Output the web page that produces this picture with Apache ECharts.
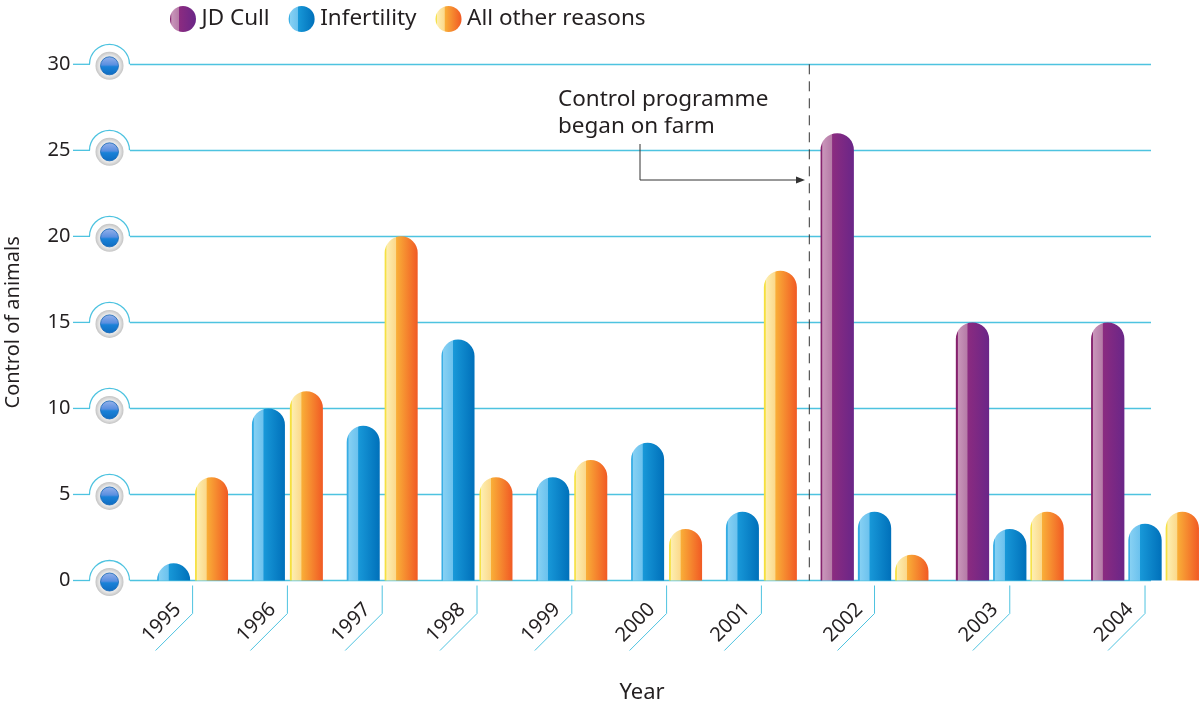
<!DOCTYPE html>
<html>
<head>
<meta charset="utf-8">
<script src="https://cdn.jsdelivr.net/npm/echarts@6/dist/echarts.min.js"></script>
<style>
html,body{margin:0;padding:0;background:#fff;}
#main{width:1200px;height:703px;}
</style>
</head>
<body>
<div id="main"></div>
<script>
// ---- data ----
const yearsBefore = ['1995','1996','1997','1998','1999','2000','2001'];
const infertilityBefore = [1, 10, 9, 14, 6, 8, 4];
const otherBefore = [6, 11, 20, 6, 7, 3, 18];
const yearsAfter = ['2002','2003','2004'];
const jdCullAfter = [26, 15, 15];
const infertilityAfter = [4, 3, 3.3];
const otherAfter = [1.5, 4, 4];
const yTicks = [0, 5, 10, 15, 20, 25, 30];
const seriesNames = ['JD Cull', 'Infertility', 'All other reasons'];
const annotationText = 'Control programme\nbegan on farm';

// ---- styles ----
const FONT = 'Noto Sans';
const CYAN = '#4ec3e0';
const TXT = '#231f20';
function hGrad(stops) {
  return new echarts.graphic.LinearGradient(0, 0, 1, 0, stops.map(s => ({offset: s[0], color: s[1]})));
}
const colJD = hGrad([[0,'#7d1c66'],[0.05,'#8c2a74'],[0.06,'#c996ba'],[0.34,'#b67ba7'],[0.36,'#8b2b80'],[1,'#6a2688']]);
const colInf = hGrad([[0,'#2aa6e0'],[0.05,'#45b4e8'],[0.06,'#86d0f3'],[0.34,'#6cc2ee'],[0.36,'#1898d8'],[1,'#0070ba']]);
const colOther = hGrad([[0,'#f4de2c'],[0.05,'#f7e35a'],[0.06,'#fdeeb0'],[0.34,'#fbd98c'],[0.36,'#f9ae38'],[1,'#f15a24']]);
const R = [17, 17, 0, 0];

const chart = echarts.init(document.getElementById('main'));
const gridTop = 64.3, gridH = 516.2;
const gridBase = {top: gridTop, height: gridH, containLabel: false, outerBoundsMode: 'none'};

const option = {
  animation: false,
  textStyle: {fontFamily: FONT},
  legend: {
    data: seriesNames,
    left: 165, top: 1,
    icon: 'circle',
    itemWidth: 27, itemHeight: 26, itemGap: 19,
    textStyle: {fontFamily: FONT, fontSize: 22.5, color: TXT}
  },
  grid: [
    Object.assign({left: 129.5, width: 1021.5}, gridBase),
    Object.assign({left: 145.2, width: 663.6}, gridBase),
    Object.assign({left: 806.9, width: 405.75}, gridBase)
  ],
  xAxis: [
    {type: 'value', gridIndex: 0, min: 0, max: 1, show: false},
    {type: 'category', gridIndex: 1, data: yearsBefore,
      axisLine: {show: false}, axisTick: {show: false},
      axisLabel: {rotate: 45, margin: 11, fontSize: 20, color: TXT, fontFamily: FONT, padding: [0, 21, 0, 0]}},
    {type: 'category', gridIndex: 2, data: yearsAfter,
      axisLine: {show: false}, axisTick: {show: false},
      axisLabel: {rotate: 45, margin: 11, fontSize: 20, color: TXT, fontFamily: FONT, padding: [0, 21, 0, 0]}}
  ],
  yAxis: [
    {type: 'value', gridIndex: 0, min: 0, max: 30, interval: 5,
      axisLine: {show: false}, axisTick: {show: false},
      splitLine: {lineStyle: {color: CYAN, width: 1.3}},
      axisLabel: {margin: 59, fontSize: 20, color: TXT, fontFamily: FONT},
      name: 'Control of animals', nameLocation: 'middle', nameRotate: 90, nameGap: 106,
      nameTextStyle: {fontSize: 20, color: TXT, fontFamily: FONT}},
    {type: 'value', gridIndex: 1, min: 0, max: 30, interval: 5, show: false},
    {type: 'value', gridIndex: 2, min: 0, max: 30, interval: 5, show: false}
  ],
  series: [
    {name: 'Infertility', type: 'bar', xAxisIndex: 1, yAxisIndex: 1, data: infertilityBefore,
      barWidth: 33, barGap: '15%', itemStyle: {color: colInf, borderRadius: R}},
    {name: 'All other reasons', type: 'bar', xAxisIndex: 1, yAxisIndex: 1, data: otherBefore,
      barWidth: 33, barGap: '15%', itemStyle: {color: colOther, borderRadius: R}},
    {name: 'JD Cull', type: 'bar', xAxisIndex: 2, yAxisIndex: 2, data: jdCullAfter,
      barWidth: 33.3, barGap: '12%', itemStyle: {color: colJD, borderRadius: R}},
    {name: 'Infertility', type: 'bar', xAxisIndex: 2, yAxisIndex: 2, data: infertilityAfter,
      barWidth: 33.3, barGap: '12%', itemStyle: {color: colInf, borderRadius: R}},
    {name: 'All other reasons', type: 'bar', xAxisIndex: 2, yAxisIndex: 2, data: otherAfter,
      barWidth: 33.3, barGap: '12%', itemStyle: {color: colOther, borderRadius: R}}
  ]
};
chart.setOption(option);

// ---- decorations positioned through the axes ----
const g = [];
const y0 = chart.convertToPixel({yAxisIndex: 0}, 0);
const yTop = chart.convertToPixel({yAxisIndex: 0}, 30);
yTicks.forEach(v => {
  const y = chart.convertToPixel({yAxisIndex: 0}, v);
  g.push({type: 'rect', shape: {x: 89, y: y - 2, width: 41, height: 4}, style: {fill: '#fff'}, z: 10});
  g.push({type: 'line', shape: {x1: 73, y1: y, x2: 90, y2: y}, style: {stroke: CYAN, lineWidth: 1.3}, z: 11});
  g.push({type: 'arc', shape: {cx: 109.5, cy: y, r: 20, startAngle: Math.PI, endAngle: 2 * Math.PI}, style: {stroke: CYAN, lineWidth: 1.3, fill: null}, z: 11});
  g.push({type: 'circle', shape: {cx: 109.5, cy: y + 1.5, r: 14},
    style: {fill: new echarts.graphic.RadialGradient(0.5, 0.5, 0.5, [{offset: 0, color: '#f6f6f6'}, {offset: 0.75, color: '#e6e6e6'}, {offset: 1, color: '#c4c4c4'}])}, z: 12});
  g.push({type: 'circle', shape: {cx: 109.5, cy: y + 1.5, r: 9},
    style: {fill: new echarts.graphic.LinearGradient(0, 0, 0, 1, [{offset: 0, color: '#97b2ea'}, {offset: 0.45, color: '#5a8fe0'}, {offset: 0.55, color: '#1a82d8'}, {offset: 1, color: '#0f6cc0'}]), stroke: '#1567b8', lineWidth: 0.8}, z: 13});
});
function bracket(x) {
  g.push({type: 'polyline', shape: {points: [[x, y0 + 5], [x, y0 + 33], [x - 37, y0 + 70]]}, style: {stroke: CYAN, lineWidth: 1, fill: null}, z: 5});
}
yearsBefore.forEach(c => bracket(chart.convertToPixel({xAxisIndex: 1}, c)));
yearsAfter.forEach(c => bracket(chart.convertToPixel({xAxisIndex: 2}, c)));

// dashed divider at the boundary between the two periods
const xDiv = 809.3;
g.push({type: 'line', shape: {x1: xDiv, y1: yTop, x2: xDiv, y2: y0}, style: {stroke: '#333', lineWidth: 1, lineDash: [10, 7]}, z: 6});
// annotation
g.push({type: 'text', x: 558, y: 86, style: {text: annotationText, fontFamily: FONT, fontSize: 22.5, lineHeight: 27, fill: TXT}, z: 6});
g.push({type: 'polyline', shape: {points: [[640, 144], [640, 180], [798, 180]]}, style: {stroke: '#333', lineWidth: 1, fill: null}, z: 6});
g.push({type: 'polygon', shape: {points: [[805, 180], [796, 176.5], [796, 183.5]]}, style: {fill: '#333'}, z: 6});
// x title
g.push({type: 'text', x: 642, y: 693, style: {text: 'Year', fontFamily: FONT, fontSize: 22, fill: TXT, align: 'center', verticalAlign: 'middle'}, z: 6});

chart.setOption({graphic: g});
</script>
</body>
</html>
